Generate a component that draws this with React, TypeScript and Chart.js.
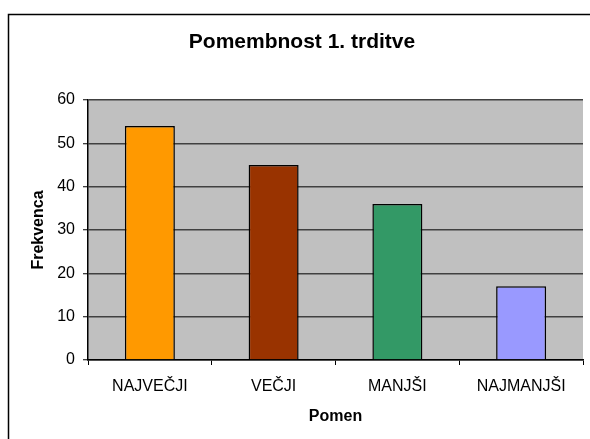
import React, { useEffect, useRef } from "react";
import { Chart, registerables } from "chart.js";

Chart.register(...registerables);

const categories = ["NAJVEČJI", "VEČJI", "MANJŠI", "NAJMANJŠI"];
const values = [54, 45, 36, 17];
const barColors = ["#FF9900", "#993300", "#339966", "#9999FF"];
const chartTitle = "Pomembnost 1. trditve";
const yTitle = "Frekvenca";
const xTitle = "Pomen";
const yMin = 0;
const yMax = 60;
const yStep = 10;

const FONT = "'Liberation Sans', Arial, sans-serif";

const decorPlugin = {
  id: "decor",
  beforeDraw(chart: any) {
    const { ctx, chartArea, width, height } = chart;
    ctx.save();
    ctx.fillStyle = "#FFFFFF";
    ctx.fillRect(0, 0, width, height);
    ctx.fillStyle = "#C0C0C0";
    ctx.fillRect(
      chartArea.left,
      chartArea.top,
      chartArea.right - chartArea.left,
      chartArea.bottom - chartArea.top
    );
    ctx.restore();
  },
  afterLayout(chart: any) {
    if (chart.titleBlock) {
      chart.titleBlock.left = 21;
      chart.titleBlock.right = 583;
    }
  },
  afterDraw(chart: any) {
    const { ctx, width, height } = chart;
    ctx.save();
    ctx.strokeStyle = "#000000";
    ctx.lineWidth = 1.5;
    ctx.beginPath();
    ctx.moveTo(8.5, height + 2);
    ctx.lineTo(8.5, 14.5);
    ctx.lineTo(width + 2, 14.5);
    ctx.stroke();
    ctx.restore();
  },
};

export default function App() {
  const ref = useRef<HTMLCanvasElement | null>(null);

  useEffect(() => {
    if (!ref.current) return;
    const chart = new Chart(ref.current, {
      type: "bar",
      data: {
        labels: categories,
        datasets: [
          {
            data: values,
            backgroundColor: barColors,
            borderColor: "#000000",
            borderWidth: 1.5,
            barPercentage: 0.404,
            categoryPercentage: 1,
          },
        ],
      },
      plugins: [decorPlugin],
      options: {
        animation: false,
        responsive: false,
        devicePixelRatio: 1,
        layout: { padding: { top: 14, left: 8, right: 7, bottom: 0 } },
        plugins: {
          legend: { display: false },
          tooltip: { enabled: false },
          title: {
            display: true,
            text: chartTitle,
            color: "#000000",
            font: { family: FONT, size: 21, weight: "bold" },
            padding: { top: 15.9, bottom: 44.9 },
          },
        },
        scales: {
          x: {
            offset: true,
            afterFit(scale: any) {
              scale.height = 79;
            },
            grid: {
              display: true,
              offset: true,
              drawOnChartArea: false,
              tickLength: 5,
              tickColor: "#000000",
              tickWidth: 1,
            },
            border: { display: true, color: "#000000", width: 1.5 },
            ticks: {
              color: "#000000",
              font: { family: FONT, size: 16 },
              padding: 12,
              maxRotation: 0,
              autoSkip: false,
            },
            title: {
              display: true,
              text: xTitle,
              color: "#000000",
              font: { family: FONT, size: 16, weight: "bold" },
              padding: { top: 0, bottom: 13 },
            },
          },
          y: {
            min: yMin,
            max: yMax,
            afterFit(scale: any) {
              scale.width = 80;
            },
            grid: {
              color: "#404040",
              lineWidth: 1.5,
              tickLength: 5,
              tickColor: "#000000",
              tickWidth: 1,
            },
            border: { display: true, color: "#000000", width: 1.5 },
            ticks: {
              stepSize: yStep,
              color: "#000000",
              font: { family: FONT, size: 16 },
              padding: 8,
            },
            title: {
              display: true,
              text: yTitle,
              color: "#000000",
              font: { family: FONT, size: 16, weight: "bold" },
              padding: { top: 21.4, bottom: 0 },
            },
          },
        },
      },
    } as any);
    return () => chart.destroy();
  }, []);

  return (
    <div style={{ position: "absolute", left: 0, top: 0, width: 590, height: 439 }}>
      <canvas ref={ref} width={590} height={439} style={{ display: "block" }} />
    </div>
  );
}
